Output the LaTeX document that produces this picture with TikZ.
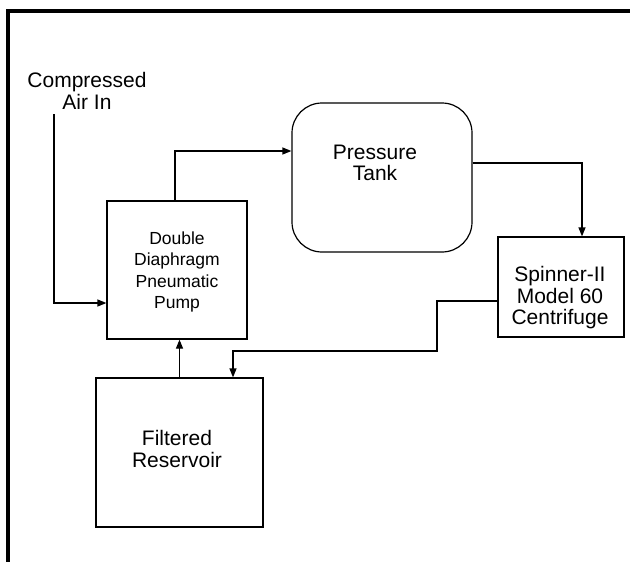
\documentclass[tikz,border=0pt]{standalone}
\usepackage{fontspec}
\setmainfont{Liberation Sans}
\usetikzlibrary{arrows.meta}
\begin{document}
\begin{tikzpicture}[x=1pt,y=-1pt,
  box/.style={draw=black,line width=1.2pt,minimum width=#1,inner sep=0pt},
  lbl/.style={align=center,font=\fontsize{21}{21.5}\selectfont,inner sep=0pt},
  slbl/.style={align=center,font=\fontsize{17.5}{21.5}\selectfont,inner sep=0pt},
  conn/.style={line width=1.2pt},
  arr/.style={conn,-{Triangle[length=9pt,width=7pt]}}]
\useasboundingbox (0,0) rectangle (630,562);
% frame
\draw[line width=4pt] (8,562) -- (8,11) -- (630,11);
% boxes
\node[box=140pt,minimum height=138pt] (pump) at (177,270) {};
\node[box=180pt,minimum height=149pt,rounded corners=30pt] (tank) at (382,177.5) {};
\node[box=126pt,minimum height=100pt] (cent) at (561,287) {};
\node[box=167pt,minimum height=149pt] (res) at (179.5,452.5) {};
% labels
\node[lbl] (airlbl) at (87,91) {Compressed\\Air In};
\node[slbl] (pumplbl) at (177,272) {Double\\Diaphragm\\Pneumatic\\Pump};
\node[lbl] (tanklbl) at (375,163) {Pressure\\Tank};
\node[lbl] (centlbl) at (560,298) {Spinner-II\\Model 60\\Centrifuge};
\node[lbl] (reslbl) at (177,449) {Filtered\\Reservoir};
% connectors
\coordinate (airin) at (54,114);
\draw[arr] (airin) |- ([yshift=-33pt]pump.west);
\draw[arr] ([xshift=-2pt]pump.north) |- ([yshift=26.5pt]tank.west);
\draw[arr] ([yshift=14.5pt]tank.east) -| ([xshift=21pt]cent.north);
\coordinate (j1) at (437,351);
\draw[arr] ([yshift=-14pt]cent.west) -| (j1) -| ([xshift=53.5pt]res.north);
\draw[arr] (res.north) -- (res.north |- pump.south);
\end{tikzpicture}
\end{document}
